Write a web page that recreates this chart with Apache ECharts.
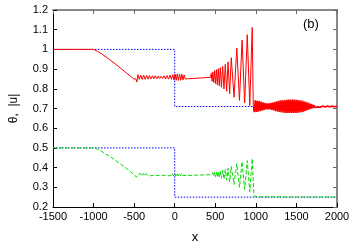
<!DOCTYPE html>
<html><head><meta charset="utf-8">
<script src="https://cdn.jsdelivr.net/npm/echarts@6/dist/echarts.min.js"></script>
<style>html,body{margin:0;padding:0;background:#fff}#c{width:356px;height:249px}</style>
</head><body><div id="c"></div>
<script>
// ---- data ----
var xTicks = [-1500, -1000, -500, 0, 500, 1000, 1500, 2000];
var yTicks = [0.2, 0.3, 0.4, 0.5, 0.6, 0.7, 0.8, 0.9, 1, 1.1, 1.2];

var thetaStep = [[-1500, 1], [0, 1], [0, 0.71], [2000, 0.71]];
var uStep = [[-1500, 0.5], [0, 0.5], [0, 0.25], [2000, 0.25]];

var thetaRamp = [[-1500,1],[-1000,1],[-980,0.997],[-950,0.99],[-900,0.977],[-800,0.948],[-700,0.916],[-600,0.882],[-540,0.862],[-510,0.851],[-490,0.845]];
var thetaRipple = [[-478,0.850],[-466,0.835],[-452,0.872],[-436,0.848],[-418,0.870],[-400,0.847],[-382,0.869],[-364,0.848],[-346,0.868],[-328,0.849],[-310,0.867],[-292,0.850],[-274,0.866],[-256,0.851],[-238,0.866],[-220,0.851],[-202,0.865],[-184,0.852],[-166,0.864],[-148,0.852],[-130,0.866],[-112,0.850],[-94,0.867],[-76,0.849],[-58,0.869],[-40,0.848],[-24,0.872],[-10,0.845],[4,0.875],[18,0.843],[32,0.876],[46,0.842],[60,0.875],[74,0.843],[88,0.874],[102,0.845],[116,0.870],[130,0.850],[145,0.858],[440,0.858]];
var thetaChirp = [[450,0.878],[460,0.838],[470,0.886],[481,0.832],[492,0.892],[503,0.826],[514,0.897],[525,0.821],[537,0.902],[549,0.815],[562,0.907],[576,0.808],[591,0.914],[607,0.799],[623,0.924],[640,0.787],[657,0.936],[677,0.775],[697,0.958],[731,0.757],[765,1.007],[798,0.741],[830,1.047],[862,0.728],[894,1.075],[925,0.715],[955,1.111],[968,0.72],[975,0.685]];
var thetaBand = [[980,0.681],[992,0.741],[1004,0.682],[1016,0.740],[1028,0.684],[1040,0.738],[1052,0.686],[1064,0.735],[1076,0.689],[1088,0.731],[1100,0.692],[1112,0.728],[1124,0.695],[1136,0.726],[1148,0.696],[1160,0.726],[1172,0.695],[1184,0.728],[1196,0.693],[1208,0.730],[1220,0.690],[1232,0.733],[1244,0.687],[1256,0.736],[1268,0.684],[1280,0.739],[1292,0.682],[1304,0.741],[1316,0.680],[1328,0.742],[1340,0.679],[1352,0.743],[1364,0.678],[1376,0.744],[1388,0.677],[1400,0.745],[1412,0.677],[1424,0.745],[1436,0.677],[1448,0.745],[1460,0.677],[1472,0.745],[1484,0.678],[1496,0.744],[1508,0.678],[1520,0.743],[1532,0.679],[1544,0.742],[1556,0.681],[1568,0.740],[1580,0.683],[1592,0.737],[1604,0.686],[1616,0.734],[1628,0.690],[1640,0.730],[1652,0.694],[1664,0.726],[1676,0.698],[1688,0.722],[1700,0.702],[1715,0.717],[1730,0.705],[1745,0.715],[1760,0.706],[1780,0.714],[1800,0.707],[1825,0.713],[1850,0.708],[1880,0.712],[1910,0.709],[1940,0.712],[1970,0.709],[2000,0.711]];

var uRamp = [[-1500,0.5],[-1000,0.5],[-980,0.498],[-950,0.493],[-900,0.482],[-800,0.456],[-700,0.428],[-600,0.398],[-540,0.378],[-510,0.366],[-487,0.358]];
var uRipple = [[-470,0.352],[-455,0.364],[-440,0.355],[-422,0.370],[-404,0.358],[-386,0.370],[-368,0.358],[-350,0.370],[-332,0.359],[-314,0.369],[-296,0.359],[-278,0.369],[-260,0.360],[-242,0.369],[-224,0.360],[-206,0.368],[-188,0.360],[-170,0.368],[-152,0.361],[-134,0.368],[-116,0.360],[-98,0.369],[-80,0.359],[-62,0.369],[-44,0.359],[-28,0.370],[-14,0.358],[0,0.371],[14,0.357],[28,0.371],[42,0.358],[56,0.370],[70,0.358],[84,0.370],[98,0.359],[112,0.369],[126,0.360],[140,0.367],[150,0.364],[440,0.364]];
var uChirp = [[450,0.372],[460,0.358],[470,0.374],[481,0.356],[492,0.376],[503,0.354],[514,0.378],[525,0.352],[537,0.380],[549,0.349],[562,0.382],[576,0.346],[591,0.386],[607,0.342],[623,0.390],[640,0.336],[657,0.396],[677,0.328],[697,0.405],[731,0.315],[765,0.420],[798,0.300],[830,0.430],[862,0.290],[894,0.435],[925,0.278],[955,0.445],[975,0.270],[990,0.252]];
var uTail = [[1200,0.252],[1500,0.251],[2000,0.251]];

// ---- chart ----
var thetaMain = thetaRamp.concat(thetaRipple, thetaChirp);
var uAbs = uRamp.concat(uRipple, uChirp, uTail);
var font = 'Liberation Sans, Arial, sans-serif';
var chart = echarts.init(document.getElementById('c'), null, {renderer: 'canvas'});
var fmtY = function (v) { return String(Math.round(v * 10) / 10); };
var fmtX = function (v) { return String(v); };
var baseX = {
  type: 'value', min: xTicks[0], max: xTicks[xTicks.length - 1], interval: 500,
  splitLine: {show: false}
};
var baseY = {
  type: 'value', min: yTicks[0], max: yTicks[yTicks.length - 1], interval: 0.1,
  splitLine: {show: false}
};
chart.setOption({
  animation: false,
  backgroundColor: '#fff',
  grid: {left: 48, right: 19, top: 10, bottom: 32},
  xAxis: [
    Object.assign({}, baseX, {
      position: 'bottom', name: 'x', nameLocation: 'middle', nameGap: 24,
      nameTextStyle: {fontFamily: font, fontSize: 13, color: '#000'},
      axisLine: {onZero: false, lineStyle: {color: '#000', width: 1}},
      axisTick: {inside: true, length: 4, lineStyle: {color: '#000'}},
      axisLabel: {fontFamily: font, fontSize: 11, color: '#000', margin: 4, formatter: fmtX}
    }),
    Object.assign({}, baseX, {
      position: 'top',
      axisLine: {onZero: false, lineStyle: {color: '#888', width: 2}},
      axisTick: {inside: true, length: 4, lineStyle: {color: '#666'}},
      axisLabel: {show: false}
    })
  ],
  yAxis: [
    Object.assign({}, baseY, {
      position: 'left', name: 'θ,  |u|', nameLocation: 'middle', nameGap: 33,
      nameTextStyle: {fontFamily: font, fontSize: 12, color: '#000'},
      axisLine: {onZero: false, lineStyle: {color: '#000', width: 1}},
      axisTick: {inside: true, length: 4, lineStyle: {color: '#000'}},
      axisLabel: {fontFamily: font, fontSize: 11, color: '#000', margin: 5, formatter: fmtY}
    }),
    Object.assign({}, baseY, {
      position: 'right',
      axisLine: {onZero: false, lineStyle: {color: '#888', width: 2}},
      axisTick: {inside: true, length: 4, lineStyle: {color: '#666'}},
      axisLabel: {show: false}
    })
  ],
  graphic: [{
    type: 'text', left: 303, top: 18,
    style: {text: '(b)', fontFamily: font, fontSize: 13, fill: '#000'}
  }],
  series: [
    {type: 'line', data: thetaStep, showSymbol: false, z: 2,
     lineStyle: {color: '#0000ff', width: 1, type: [1.5, 1.5]}},
    {type: 'line', data: uStep, showSymbol: false, z: 2,
     lineStyle: {color: '#0000ff', width: 1, type: [1.5, 1.5]}},
    {type: 'line', data: thetaMain, showSymbol: false, z: 3,
     lineStyle: {color: '#ff0000', width: 1}},
    {type: 'line', data: thetaBand, showSymbol: false, z: 3,
     lineStyle: {color: '#ff0000', width: 1.6}},
    {type: 'line', data: uAbs, showSymbol: false, z: 3,
     lineStyle: {color: '#00dd00', width: 1, type: [4, 2]}}
  ]
});
</script></body></html>
